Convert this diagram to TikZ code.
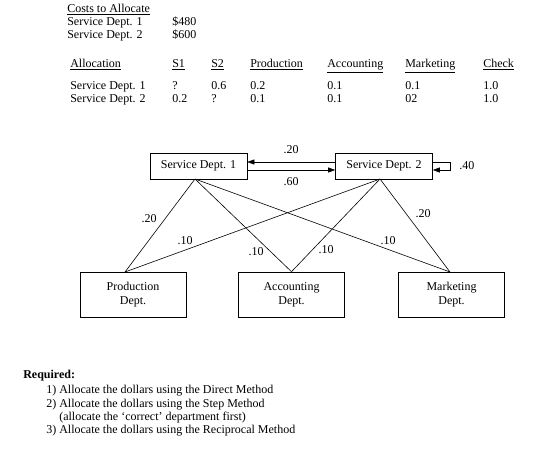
\documentclass[tikz,border=0pt]{standalone}
\usepackage{fontspec}
\setmainfont{Liberation Serif}
\usetikzlibrary{arrows.meta}

\begin{document}
\begin{tikzpicture}[x=1pt, y=-1pt, line width=0.6pt,
      every node/.style={font=\fontsize{12pt}{14pt}\selectfont},
      txt/.style={anchor=base west, inner sep=0pt},
      lbl/.style={inner sep=0pt},
      service/.style={rectangle, draw, minimum width=97pt, minimum height=26pt, inner sep=0pt},
      dept/.style={rectangle, draw, minimum width=106pt, minimum height=45pt, align=center, inner sep=0pt},
      flow/.style={-{Triangle[length=7pt,width=5pt]}}
      ]
      \useasboundingbox (0,0) rectangle (560,449);

      % costs to allocate
      \node[txt] (costs) at (67,13) {\underline{Costs to Allocate}};
      \node[txt] (cost1) at (67,26) {Service Dept. 1};
      \node[txt] (cost2) at (67,39) {Service Dept. 2};
      \node[txt] (amt1) at (172,26) {\$480};
      \node[txt] (amt2) at (172,39) {\$600};

      % allocation table
      \foreach \name/\x/\head in {alloc/70/Allocation, sa/172/S1, sb/211/S2,
          prod/250/Production, acct/327/Accounting, mkt/405/Marketing, chk/483/Check}
        \node[txt] (h-\name) at (\x,68) {\underline{\head}};
      \node[txt] (r1-alloc) at (70,90) {Service Dept. 1};
      \node[txt] (r2-alloc) at (70,103) {Service Dept. 2};
      \foreach \name/\x/\a/\b in {sa/172/?/0.2, sb/211/0.6/?, prod/250/0.2/0.1,
          acct/327/0.1/0.1, mkt/405/0.1/02, chk/483/1.0/1.0} {
        \node[txt] (r1-\name) at (\x,90) {\a};
        \node[txt] (r2-\name) at (\x,103) {\b};
      }

      % departments
      \node[service] (sd1) at (198.5,166) {Service Dept. 1};
      \node[service] (sd2) at (384,166) {Service Dept. 2};
      \node[dept] (prod) at (133,294.5) {Production\\Dept.};
      \node[dept] (acct) at (291.5,294.5) {Accounting\\Dept.};
      \node[dept] (mkt) at (451.5,294.5) {Marketing\\Dept.};

      \coordinate (sd1-out) at (195,179);
      \coordinate (sd2-out) at (380,179);
      \coordinate (prod-in) at (125,272);
      \coordinate (mkt-in) at (450,272);

      % flows between service depts
      \draw[flow] ([yshift=4pt]sd2.west) -- ([yshift=4pt]sd1.east);
      \draw[flow] ([yshift=-4pt]sd1.west -| sd1.east) -- ([yshift=-4pt]sd2.west);
      \draw[flow] ([yshift=4pt]sd2.east) -- ++(17,0) |- ([yshift=-4pt]sd2.east);
      \node[lbl] (l12) at (291,150) {.20};
      \node[lbl] (l21) at (291,182) {.60};
      \node[lbl, anchor=west] (l22) at (459,166) {.40};

      % flows to operating depts
      \draw (sd1-out) -- (prod-in);
      \draw (sd1-out) -- (acct.north);
      \draw (sd1-out) -- (mkt-in);
      \draw (sd2-out) -- (prod-in);
      \draw (sd2-out) -- (acct.north);
      \draw (sd2-out) -- (mkt-in);
      \node[lbl] (l1p) at (149,219) {.20};
      \node[lbl] (l2p) at (185,241) {.10};
      \node[lbl] (l1a) at (256,252) {.10};
      \node[lbl] (l2a) at (326,250) {.10};
      \node[lbl] (l1m) at (388,241) {.10};
      \node[lbl] (l2m) at (423,214) {.20};

      % required
      \node[txt] (req) at (23,378) {\textbf{Required:}};
      \node[txt] (req1) at (46,393) {1) Allocate the dollars using the Direct Method};
      \node[txt] (req2) at (46,407) {2) Allocate the dollars using the Step Method};
      \node[txt] (req2b) at (59,420) {(allocate the `correct' department first)};
      \node[txt] (req3) at (46,433) {3) Allocate the dollars using the Reciprocal Method};
    \end{tikzpicture}
\end{document}
